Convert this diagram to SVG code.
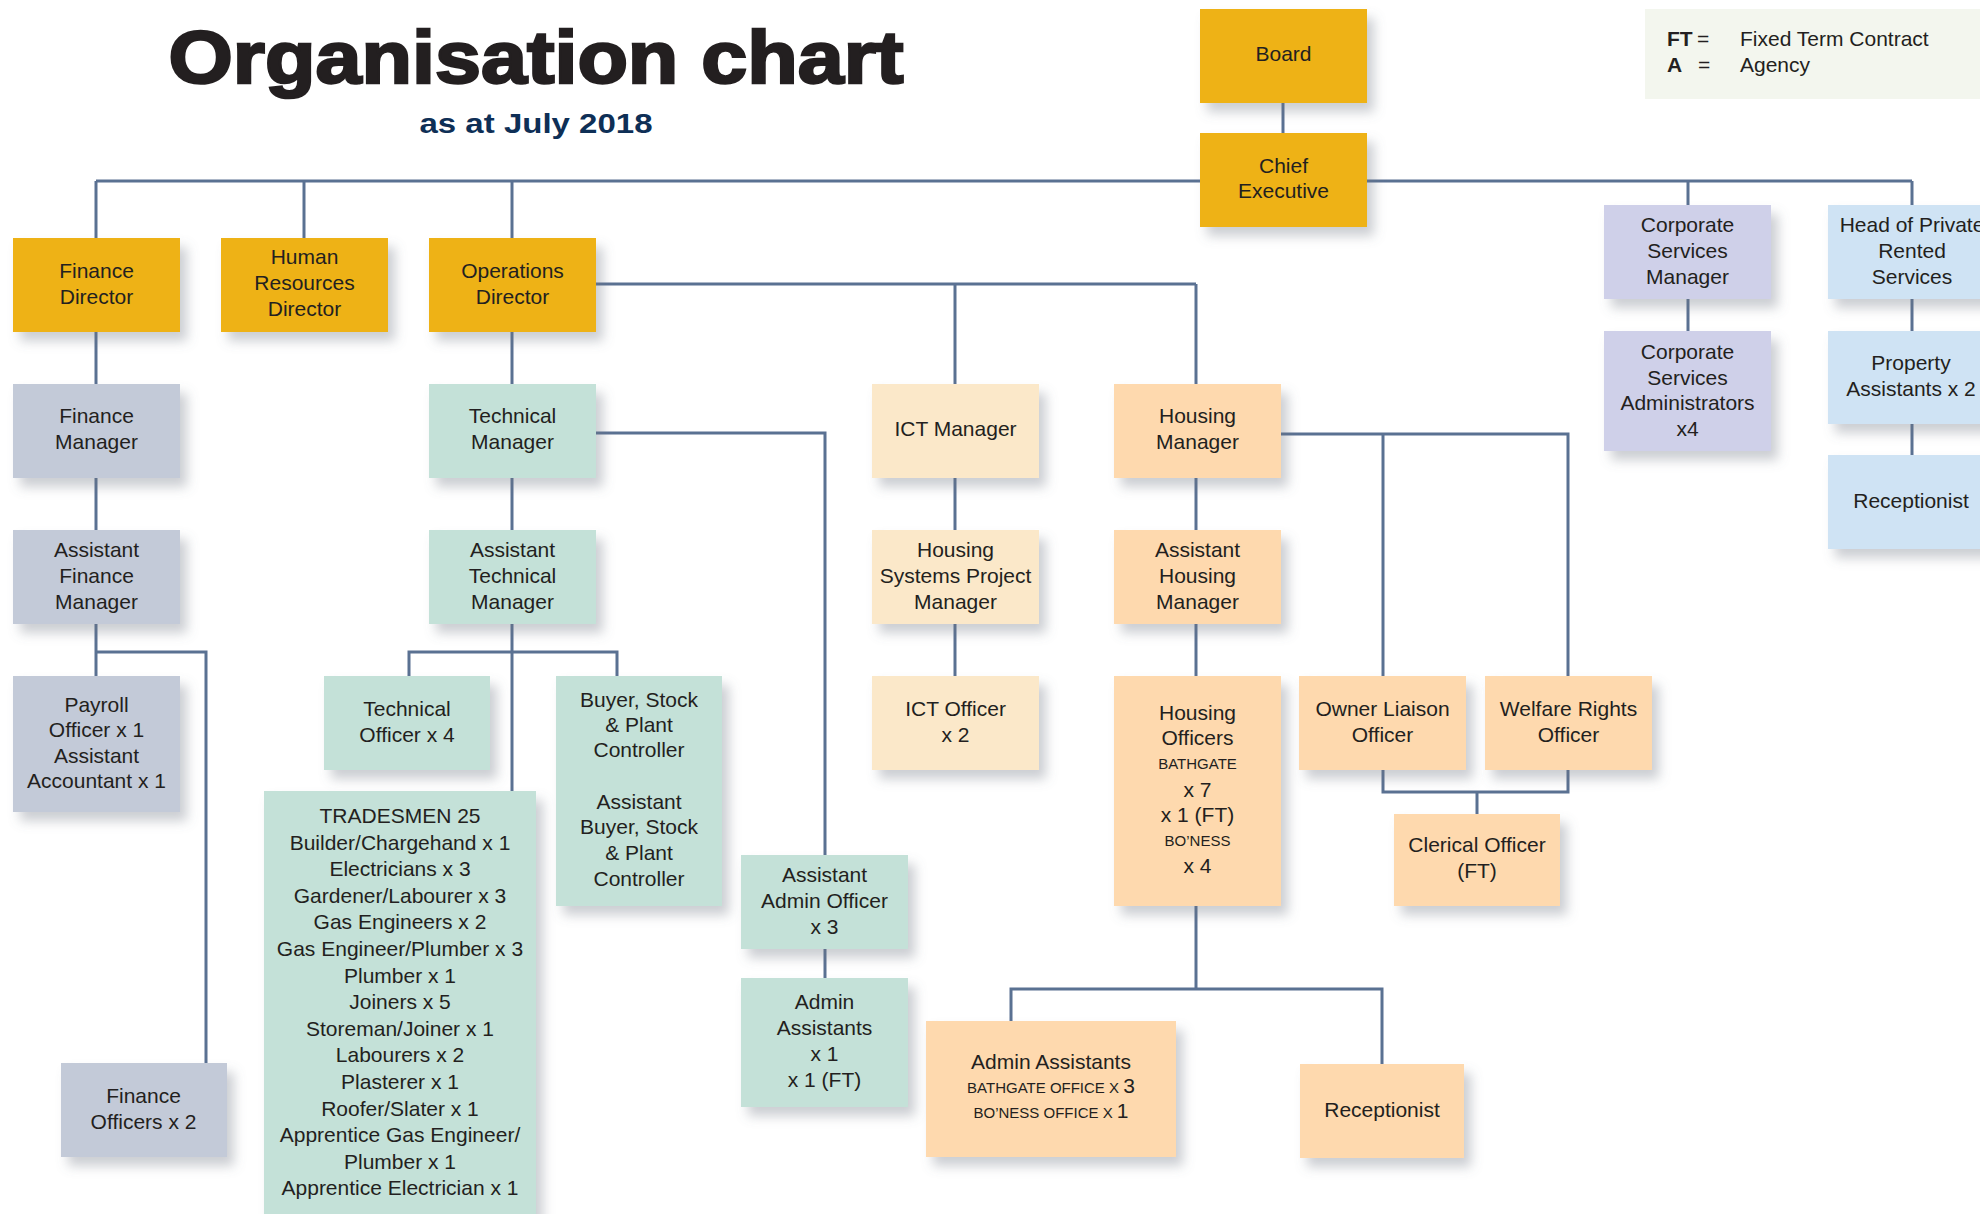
<svg xmlns="http://www.w3.org/2000/svg" width="1980" height="1214" viewBox="0 0 1980 1214">
<defs>
<filter id="sh" x="-20%" y="-20%" width="150%" height="150%">
<feDropShadow dx="7" dy="9" stdDeviation="6" flood-color="#6b7380" flood-opacity="0.35"/>
</filter>
<style>
text{font-family:"Liberation Sans",Arial,sans-serif;font-size:21px;fill:#231f20;text-anchor:middle}
.sc{font-size:15px}
.l{text-anchor:start}
.gold{fill:#eeb212}
.fin{fill:#c3cad8}
.teal{fill:#c4e1d8}
.ict{fill:#fbe8c9}
.hou{fill:#fed9ae}
.corp{fill:#cfd0e9}
.prs{fill:#cfe3f4}
rect.b{filter:url(#sh)}
#connectors line,#connectors polyline{stroke:#5a7192;stroke-width:3;fill:none}
</style>
</defs>
<rect width="1980" height="1214" fill="#ffffff"/>

<g id="title">
<text x="536" y="83" style="font-size:75px;font-weight:bold;fill:#231f20;stroke:#231f20;stroke-width:2.5" textLength="735" lengthAdjust="spacingAndGlyphs">Organisation chart</text>
<text x="536" y="133" style="font-size:28px;font-weight:bold;fill:#0e2f56" textLength="233" lengthAdjust="spacingAndGlyphs">as at July 2018</text>
</g>

<g id="legend">
<rect x="1645" y="9" width="340" height="90" fill="#f3f6ee"/>
<text class="l" x="1667" y="46" font-weight="bold">FT</text>
<text class="l" x="1697" y="46">=</text>
<text class="l" x="1740" y="46">Fixed Term Contract</text>
<text class="l" x="1667" y="72" font-weight="bold">A</text>
<text class="l" x="1698" y="72">=</text>
<text class="l" x="1740" y="72">Agency</text>
</g>

<g id="connectors">
<line x1="1283" y1="103" x2="1283" y2="133"/>
<line x1="96" y1="181" x2="1912" y2="181"/>
<line x1="96" y1="181" x2="96" y2="238"/>
<line x1="304" y1="181" x2="304" y2="238"/>
<line x1="512" y1="181" x2="512" y2="238"/>
<polyline points="1912,181 1912,205"/>
<line x1="1688" y1="181" x2="1688" y2="205"/>
<line x1="1688" y1="299" x2="1688" y2="331"/>
<line x1="1912" y1="299" x2="1912" y2="331"/>
<line x1="1912" y1="424" x2="1912" y2="455"/>
<line x1="596" y1="284" x2="1196" y2="284"/>
<line x1="955" y1="284" x2="955" y2="384"/>
<line x1="1196" y1="284" x2="1196" y2="384"/>
<line x1="96" y1="332" x2="96" y2="384"/>
<line x1="96" y1="478" x2="96" y2="530"/>
<line x1="96" y1="624" x2="96" y2="676"/>
<polyline points="96,652 206,652 206,1063"/>
<line x1="512" y1="332" x2="512" y2="384"/>
<line x1="512" y1="478" x2="512" y2="530"/>
<line x1="512" y1="624" x2="512" y2="791"/>
<polyline points="409,676 409,652 617,652 617,676"/>
<polyline points="596,433 825,433 825,855"/>
<line x1="825" y1="949" x2="825" y2="978"/>
<line x1="955" y1="478" x2="955" y2="530"/>
<line x1="955" y1="624" x2="955" y2="676"/>
<line x1="1196" y1="478" x2="1196" y2="530"/>
<line x1="1196" y1="624" x2="1196" y2="676"/>
<line x1="1196" y1="906" x2="1196" y2="989"/>
<polyline points="1011,1021 1011,989 1382,989 1382,1064"/>
<polyline points="1281,434 1568,434 1568,676"/>
<line x1="1383" y1="434" x2="1383" y2="676"/>
<polyline points="1383,770 1383,792 1568,792 1568,770"/>
<line x1="1477" y1="792" x2="1477" y2="814"/>
</g>

<g id="board"><rect class="b gold" x="1200" y="9" width="167" height="94"/><text x="1283.5" y="61">Board</text></g>
<g id="chief-executive"><rect class="b gold" x="1200" y="133" width="167" height="94"/><text x="1283.5" y="173">Chief</text><text x="1283.5" y="198">Executive</text></g>

<g id="finance-director"><rect class="b gold" x="13" y="238" width="167" height="94"/><text x="96.5" y="278">Finance</text><text x="96.5" y="304">Director</text></g>
<g id="hr-director"><rect class="b gold" x="221" y="238" width="167" height="94"/><text x="304.5" y="264">Human</text><text x="304.5" y="290">Resources</text><text x="304.5" y="316">Director</text></g>
<g id="operations-director"><rect class="b gold" x="429" y="238" width="167" height="94"/><text x="512.5" y="278">Operations</text><text x="512.5" y="304">Director</text></g>

<g id="finance-manager"><rect class="b fin" x="13" y="384" width="167" height="94"/><text x="96.5" y="423">Finance</text><text x="96.5" y="449">Manager</text></g>
<g id="assistant-finance-manager"><rect class="b fin" x="13" y="530" width="167" height="94"/><text x="96.5" y="557">Assistant</text><text x="96.5" y="583">Finance</text><text x="96.5" y="609">Manager</text></g>
<g id="payroll"><rect class="b fin" x="13" y="676" width="167" height="136"/><text x="96.5" y="712">Payroll</text><text x="96.5" y="737">Officer x 1</text><text x="96.5" y="763">Assistant</text><text x="96.5" y="788">Accountant x 1</text></g>
<g id="finance-officers"><rect class="b fin" x="61" y="1063" width="166" height="94"/><text x="143.5" y="1103">Finance</text><text x="143.5" y="1129">Officers x 2</text></g>

<g id="technical-manager"><rect class="b teal" x="429" y="384" width="167" height="94"/><text x="512.5" y="423">Technical</text><text x="512.5" y="449">Manager</text></g>
<g id="assistant-technical-manager"><rect class="b teal" x="429" y="530" width="167" height="94"/><text x="512.5" y="557">Assistant</text><text x="512.5" y="583">Technical</text><text x="512.5" y="609">Manager</text></g>
<g id="technical-officer"><rect class="b teal" x="324" y="676" width="166" height="94"/><text x="407" y="716">Technical</text><text x="407" y="742">Officer x 4</text></g>
<g id="buyer"><rect class="b teal" x="556" y="676" width="166" height="230"/>
<text x="639" y="707">Buyer, Stock</text><text x="639" y="732">&amp; Plant</text><text x="639" y="757">Controller</text>
<text x="639" y="809">Assistant</text><text x="639" y="834">Buyer, Stock</text><text x="639" y="860">&amp; Plant</text><text x="639" y="886">Controller</text></g>
<g id="tradesmen"><rect class="b teal" x="264" y="791" width="272" height="440"/>
<text x="400" y="823">TRADESMEN 25</text>
<text x="400" y="850">Builder/Chargehand x 1</text>
<text x="400" y="876">Electricians x 3</text>
<text x="400" y="903">Gardener/Labourer x 3</text>
<text x="400" y="929">Gas Engineers x 2</text>
<text x="400" y="956">Gas Engineer/Plumber x 3</text>
<text x="400" y="983">Plumber x 1</text>
<text x="400" y="1009">Joiners x 5</text>
<text x="400" y="1036">Storeman/Joiner x 1</text>
<text x="400" y="1062">Labourers x 2</text>
<text x="400" y="1089">Plasterer x 1</text>
<text x="400" y="1116">Roofer/Slater x 1</text>
<text x="400" y="1142">Apprentice Gas Engineer/</text>
<text x="400" y="1169">Plumber x 1</text>
<text x="400" y="1195">Apprentice Electrician x 1</text></g>
<g id="assistant-admin-officer"><rect class="b teal" x="741" y="855" width="167" height="94"/><text x="824.5" y="882">Assistant</text><text x="824.5" y="908">Admin Officer</text><text x="824.5" y="934">x 3</text></g>
<g id="admin-assistants-teal"><rect class="b teal" x="741" y="978" width="167" height="129"/><text x="824.5" y="1009">Admin</text><text x="824.5" y="1035">Assistants</text><text x="824.5" y="1061">x 1</text><text x="824.5" y="1087">x 1 (FT)</text></g>

<g id="ict-manager"><rect class="b ict" x="872" y="384" width="167" height="94"/><text x="955.5" y="436">ICT Manager</text></g>
<g id="housing-systems-project-manager"><rect class="b ict" x="872" y="530" width="167" height="94"/><text x="955.5" y="557">Housing</text><text x="955.5" y="583">Systems Project</text><text x="955.5" y="609">Manager</text></g>
<g id="ict-officer"><rect class="b ict" x="872" y="676" width="167" height="94"/><text x="955.5" y="716">ICT Officer</text><text x="955.5" y="742">x 2</text></g>

<g id="housing-manager"><rect class="b hou" x="1114" y="384" width="167" height="94"/><text x="1197.5" y="423">Housing</text><text x="1197.5" y="449">Manager</text></g>
<g id="assistant-housing-manager"><rect class="b hou" x="1114" y="530" width="167" height="94"/><text x="1197.5" y="557">Assistant</text><text x="1197.5" y="583">Housing</text><text x="1197.5" y="609">Manager</text></g>
<g id="housing-officers"><rect class="b hou" x="1114" y="676" width="167" height="230"/>
<text x="1197.5" y="720">Housing</text><text x="1197.5" y="745">Officers</text><text class="sc" x="1197.5" y="769">BATHGATE</text>
<text x="1197.5" y="797">x 7</text><text x="1197.5" y="822">x 1 (FT)</text><text class="sc" x="1197.5" y="846">BO’NESS</text><text x="1197.5" y="873">x 4</text></g>
<g id="owner-liaison-officer"><rect class="b hou" x="1299" y="676" width="167" height="94"/><text x="1382.5" y="716">Owner Liaison</text><text x="1382.5" y="742">Officer</text></g>
<g id="welfare-rights-officer"><rect class="b hou" x="1485" y="676" width="167" height="94"/><text x="1568.5" y="716">Welfare Rights</text><text x="1568.5" y="742">Officer</text></g>
<g id="clerical-officer"><rect class="b hou" x="1394" y="814" width="166" height="92"/><text x="1477" y="852">Clerical Officer</text><text x="1477" y="878">(FT)</text></g>
<g id="admin-assistants-housing"><rect class="b hou" x="926" y="1021" width="250" height="136"/>
<text x="1051" y="1069">Admin Assistants</text>
<text x="1051" y="1093"><tspan class="sc">BATHGATE OFFICE X </tspan>3</text>
<text x="1051" y="1118"><tspan class="sc">BO’NESS OFFICE X </tspan>1</text></g>
<g id="receptionist-housing"><rect class="b hou" x="1300" y="1064" width="164" height="94"/><text x="1382" y="1117">Receptionist</text></g>

<g id="corporate-services-manager"><rect class="b corp" x="1604" y="205" width="167" height="94"/><text x="1687.5" y="232">Corporate</text><text x="1687.5" y="258">Services</text><text x="1687.5" y="284">Manager</text></g>
<g id="corporate-services-administrators"><rect class="b corp" x="1604" y="331" width="167" height="120"/><text x="1687.5" y="359">Corporate</text><text x="1687.5" y="385">Services</text><text x="1687.5" y="410">Administrators</text><text x="1687.5" y="436">x4</text></g>

<g id="head-of-private-rented-services"><rect class="b prs" x="1828" y="205" width="168" height="94"/><text x="1912" y="232">Head of Private</text><text x="1912" y="258">Rented</text><text x="1912" y="284">Services</text></g>
<g id="property-assistants"><rect class="b prs" x="1828" y="331" width="168" height="93"/><text x="1911" y="370">Property</text><text x="1911" y="396">Assistants x 2</text></g>
<g id="receptionist-prs"><rect class="b prs" x="1828" y="455" width="168" height="94"/><text x="1911" y="508">Receptionist</text></g>
</svg>
